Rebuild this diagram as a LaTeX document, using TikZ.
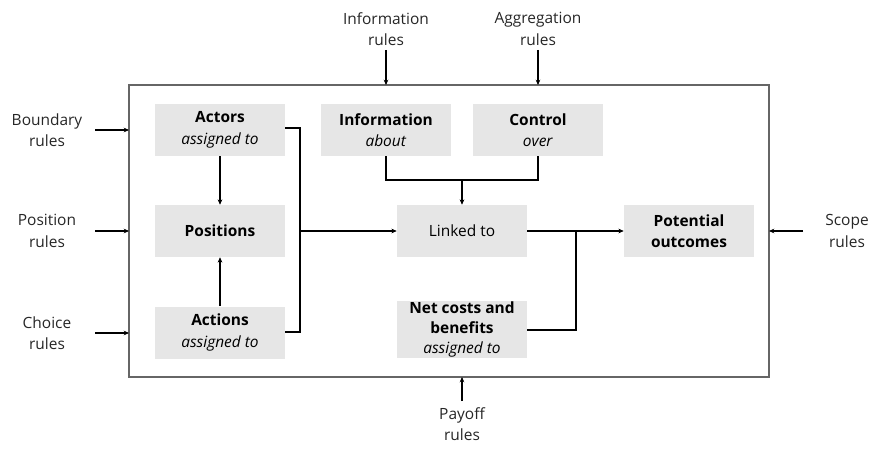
\documentclass[tikz,border=0pt]{standalone}
\usepackage{fontspec}
\setmainfont{Open Sans}
\usetikzlibrary{arrows.meta}
\begin{document}
\begin{tikzpicture}[x=0.75pt,y=-0.75pt,
  font=\fontsize{11.6}{16.2}\selectfont,
  box/.style={fill=boxgray, draw=none, minimum width=97.5pt, minimum height=39pt,
    inner sep=0pt, align=center, text=black},
  lbl/.style={align=center, inner sep=0pt, text=black!85},
  wire/.style={line width=0.9pt, draw=black},
  arr/.style={wire, -{Stealth[length=4pt,width=3.5pt]}},
]
\definecolor{boxgray}{HTML}{E6E6E6}
\useasboundingbox (0,0) rectangle (869,453);

% outer frame
\draw[draw=black!60, line width=0.8pt] (129,85) rectangle (769,377);

% inner boxes
\node[box] (actors) at (220,130) {\textbf{Actors}\\\textit{assigned to}};
\node[box] (positions) at (220,231) {\textbf{Positions}};
\node[box] (actions) at (220,332.5) {\textbf{Actions}\\\textit{assigned to}};
\node[box] (info) at (386,130) {\textbf{Information}\\\textit{about}};
\node[box] (control) at (538,130) {\textbf{Control}\\\textit{over}};
\node[box] (linked) at (462,231) {Linked to};
\node[box, minimum height=43pt, font=\fontsize{11.6}{15}\selectfont] (costs) at (462,329.5) {\textbf{Net costs and}\\\textbf{benefits}\\\textit{assigned to}};
\node[box] (outcomes) at (689,231) {\textbf{Potential}\\\textbf{outcomes}};

% rule labels
\node[lbl] (boundary) at (47,130) {Boundary\\rules};
\node[lbl] (position) at (47,231) {Position\\rules};
\node[lbl] (choice) at (47,333) {Choice\\rules};
\node[lbl] (inforules) at (386,29) {Information\\rules};
\node[lbl] (aggr) at (538,29) {Aggregation\\rules};
\node[lbl] (payoff) at (462,424) {Payoff\\rules};
\node[lbl] (scope) at (847,231) {Scope\\rules};

% arrow anchors on the frame
\coordinate (fb) at (129,130);
\coordinate (fp) at (129,231);
\coordinate (fc) at (129,333);
\coordinate (fi) at (386,85);
\coordinate (fa) at (538,85);
\coordinate (fpay) at (462,377);
\coordinate (fs) at (769,231);

\draw[arr] (95,130) -- (fb);
\draw[arr] (95,231) -- (fp);
\draw[arr] (95,333) -- (fc);
\draw[arr] (386,50) -- (fi);
\draw[arr] (538,50) -- (fa);
\draw[arr] (462,401) -- (fpay);
\draw[arr] (803,231) -- (fs);

% internal flow
\draw[arr] (actors) -- (positions);
\draw[arr] (actions) -- (positions);
\draw[wire] (actors.east |- 0,128) -| (300,332) -- (actions.east |- 0,332);
\draw[arr] (300,231) -- (linked);
\draw[wire] (info.south) |- (462,180) -| (control.south);
\draw[arr] (462,180) -- (linked);
\draw[arr] (linked) -- (outcomes);
\draw[wire] (costs.east |- 0,330) -| (576,231);
\end{tikzpicture}
\end{document}
